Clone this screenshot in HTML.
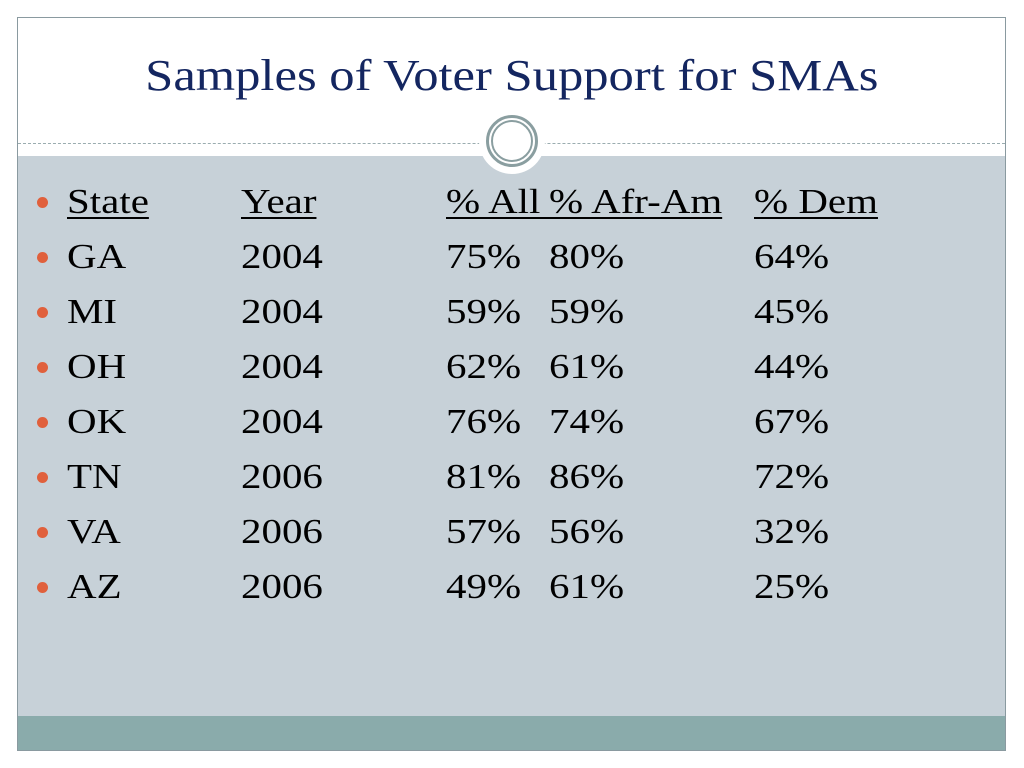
<!DOCTYPE html>
<html><head><meta charset="utf-8"><style>
body{margin:0;width:1024px;height:768px;background:#fff;position:relative;overflow:hidden;font-family:"Liberation Serif",serif}
.frame{position:absolute;left:17px;top:17px;width:989px;height:734px;border:1px solid #8a9aa0;box-sizing:border-box}
.body{position:absolute;left:18px;top:156px;width:987px;height:560px;background:#c7d1d8}
.band{position:absolute;left:18px;top:716px;width:987px;height:34px;background:#8aabab}
.dash{position:absolute;left:18px;top:143px;width:987px;border-top:1px dashed #9aacaf}
.title{position:absolute;left:0;width:1024px;top:50px;text-align:center;font-size:44px;color:#142660}
.title span{display:inline-block;transform:scaleX(1.15)}
.halo{position:absolute;left:479px;top:108px;width:66px;height:66px;border-radius:50%;background:#fff}
.ring{position:absolute;left:486px;top:115px;width:52px;height:52px;border-radius:50%;border:3px solid #8a9ea0;box-sizing:border-box}
.ring2{position:absolute;left:491px;top:120px;width:42px;height:42px;border-radius:50%;border:2px solid #8a9ea0;box-sizing:border-box}
.c{position:absolute;font-size:35px;color:#000;line-height:40px;white-space:nowrap;transform:scaleX(1.17);transform-origin:left center}
.b{position:absolute;width:11px;height:11px;border-radius:50%;background:#e0603c}
u{text-decoration-thickness:2px;text-underline-offset:4px}
</style></head><body>
<div class="frame"></div>
<div class="title"><span>Samples of Voter Support for SMAs</span></div>
<div class="body"></div>
<div class="band"></div>
<div class="dash"></div>
<div class="halo"></div>
<div class="ring"></div>
<div class="ring2"></div>
<div id="rows"></div>
<script>
const headers=["State","Year","% All","% Afr-Am","% Dem"];
const states=["GA","MI","OH","OK","TN","VA","AZ"];
const years=["2004","2004","2004","2004","2006","2006","2006"];
const allPct=["75%","59%","62%","76%","81%","57%","49%"];
const afrPct=["80%","59%","61%","74%","86%","56%","61%"];
const demPct=["64%","45%","44%","67%","72%","32%","25%"];
const colX=[67,241,446,549,754];
const root=document.getElementById('rows');
function addRow(i,vals,under){
  const top=182+i*55;
  const b=document.createElement('div');b.className='b';
  
  
  b.style.left='37px';b.style.top=(top+15)+'px';root.appendChild(b);
  vals.forEach((v,j)=>{
    const d=document.createElement('div');d.className='c';
    
    
    d.style.left=colX[j]+'px';d.style.top=top+'px';
    if(under){const u=document.createElement('u');u.textContent=v+(j==2?'\u00a0':'');d.appendChild(u);}else d.textContent=v;
    root.appendChild(d);
  });
}
addRow(0,headers,true);
states.forEach((s,i)=>addRow(i+1,[s,years[i],allPct[i],afrPct[i],demPct[i]],false));
</script>
</body></html>
